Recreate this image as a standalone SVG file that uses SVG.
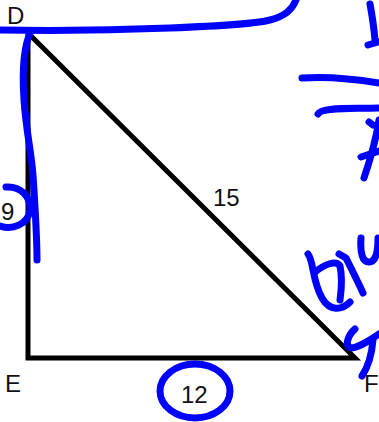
<svg xmlns="http://www.w3.org/2000/svg" width="379" height="422" viewBox="0 0 379 422">
<style>
.lbl{font-family:"Liberation Sans",Arial,sans-serif;font-size:24px;fill:#111}
.ink{fill:none;stroke:#0000ff;stroke-width:7;stroke-linecap:round;stroke-linejoin:round}
</style>
<rect width="379" height="422" fill="#ffffff"/>
<g id="triangle">
<polygon points="28,33 28,358 355,358" fill="none" stroke="#000" stroke-width="5" stroke-linejoin="miter"/>
</g>
<g id="labels">
<text class="lbl" x="7" y="24">D</text>
<text class="lbl" x="5" y="392">E</text>
<text class="lbl" x="364" y="392">F</text>
<text class="lbl" x="1" y="220">9</text>
<text class="lbl" x="213" y="206">15</text>
<text class="lbl" x="181" y="403">12</text>
</g>
<g id="ink">
<path class="ink" d="M0,30 C60,31 120,30 170,28 C220,26 255,24 270,20 C285,16 292,10 296,0"/>
<path class="ink" d="M31,31 C24,45 22,70 24,100 C26,130 31,150 33,175 C35,205 37,235 37,260"/>
<path class="ink" d="M6,187 C20,186 31,196 30,210 C28,225 12,230 0,226"/>
<ellipse class="ink" cx="195" cy="391" rx="35" ry="27"/>
<path class="ink" d="M370,4 C372,15 374,28 375,40 M368,45 L378,42"/>
<path class="ink" d="M302,78 C330,76 355,79 379,83"/>
<path class="ink" d="M318,114 C322,107 350,109 379,108"/>
<path class="ink" d="M364,178 C370,160 376,140 379,120 M369,122 L373,125 M361,157 L379,151"/>
<path class="ink" d="M308,254 C314,262 312,280 322,298 C330,312 342,310 350,302 M315,272 C325,264 336,260 340,266 C343,280 341,292 340,300"/>
<path class="ink" d="M339,254 L346,258 C352,270 358,282 363,293"/>
<path class="ink" d="M361,238 C360,252 362,263 370,262 C377,260 378,250 378,238"/>
<path class="ink" d="M355,329 C348,335 344,346 351,348 C360,347 370,340 379,334 M373,340 C372,352 370,364 362,376"/>
</g>
</svg>
